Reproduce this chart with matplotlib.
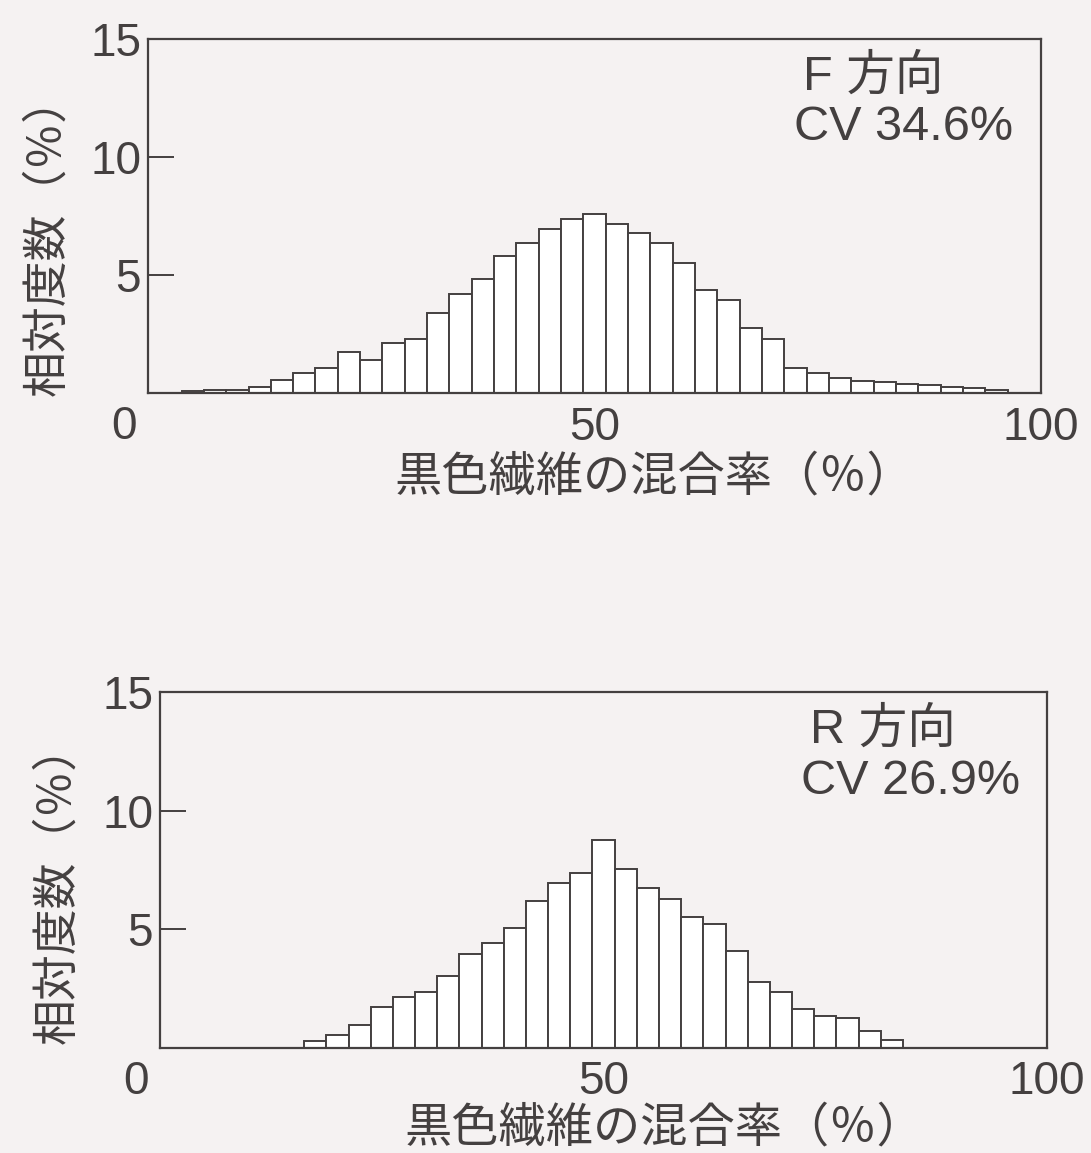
import matplotlib
matplotlib.use("Agg")
import matplotlib.pyplot as plt

plt.rcParams['font.family'] = ['Liberation Sans', 'Noto Sans CJK JP']

# bin centres (%) and relative frequency (%)
f_centers = [5, 7.5, 10, 12.5, 15, 17.5, 20, 22.5, 25, 27.5, 30, 32.5, 35, 37.5,
             40, 42.5, 45, 47.5, 50, 52.5, 55, 57.5, 60, 62.5, 65, 67.5, 70, 72.5,
             75, 77.5, 80, 82.5, 85, 87.5, 90, 92.5, 95]
f_values = [0.08, 0.14, 0.15, 0.27, 0.55, 0.83, 1.08, 1.75, 1.4, 2.1, 2.3, 3.4,
            4.2, 4.83, 5.8, 6.34, 6.93, 7.36, 7.57, 7.16, 6.79, 6.37, 5.49, 4.36,
            3.94, 2.77, 2.27, 1.07, 0.86, 0.62, 0.53, 0.47, 0.4, 0.36, 0.27, 0.2, 0.14]

r_centers = [17.5, 20, 22.5, 25, 27.5, 30, 32.5, 35, 37.5, 40, 42.5, 45, 47.5,
             50, 52.5, 55, 57.5, 60, 62.5, 65, 67.5, 70, 72.5, 75, 77.5, 80, 82.5]
r_values = [0.28, 0.56, 0.96, 1.73, 2.15, 2.35, 3.05, 3.97, 4.41, 5.05, 6.2, 6.94,
            7.39, 8.77, 7.53, 6.74, 6.27, 5.53, 5.24, 4.07, 2.76, 2.36, 1.66, 1.35,
            1.28, 0.70, 0.35]

panel_titles = ["F 方向", "R 方向"]
panel_cv = ["CV 34.6%", "CV 26.9%"]
xlabel = "黒色繊維の混合率（％）"
ylabel = "相対度数（％）"

ink = "#444040"
bg = "#f5f2f2"
fs = 33
cjk = ['Noto Sans CJK JP']

fig = plt.figure(figsize=(10.91, 11.53), dpi=100, facecolor=bg)
ax_top = fig.add_axes([0.1357, 0.6591, 0.8185, 0.3071])
ax_bot = fig.add_axes([0.1467, 0.0911, 0.8130, 0.3087])

panels = [(ax_top, f_centers, f_values), (ax_bot, r_centers, r_values)]
# label positions in axes coords (x label centre, y label centre)
xlab_pos = [(0.567, -0.237), (0.569, -0.225)]
ylab_pos = [(-0.113, 0.446), (-0.116, 0.463)]

for i, (ax, cen, val) in enumerate(panels):
    ax.set_facecolor(bg)
    ax.bar(cen, val, width=2.5, color="white", edgecolor=ink, linewidth=1.4)
    ax.set_xlim(0, 100)
    ax.set_ylim(0, 15)
    for s in ax.spines.values():
        s.set_color(ink)
        s.set_linewidth(1.6)

    ax.set_yticks([5, 10, 15])
    ax.set_yticklabels(["5", "10", "15"])
    ax.tick_params(axis="y", direction="in", length=19, width=1.4, color=ink,
                   pad=5, labelsize=fs, labelcolor=ink)
    ax.set_xticks([50, 100])
    ax.set_xticklabels(["50", "100"])
    ax.tick_params(axis="x", length=0, pad=9, labelsize=fs, labelcolor=ink)
    # shared origin label
    ax.text(-2.7, -0.5, "0", ha="center", va="top", fontsize=fs, color=ink,
            clip_on=False)

    xl = ax.set_xlabel(xlabel, fontsize=34, color=ink, family=cjk)
    xl.set_verticalalignment("center")
    ax.xaxis.set_label_coords(*xlab_pos[i])
    yl = ax.set_ylabel(ylabel, fontsize=33, color=ink, family=cjk)
    yl.set_verticalalignment("center")
    ax.yaxis.set_label_coords(*ylab_pos[i])

    ax.text(73.3, 13.4, panel_titles[i], ha="left", va="center", fontsize=35,
            color=ink)
    ax.text(72.3, 11.25, panel_cv[i], ha="left", va="center", fontsize=35,
            color=ink)

fig.savefig("out.png", dpi=100, facecolor=bg)
